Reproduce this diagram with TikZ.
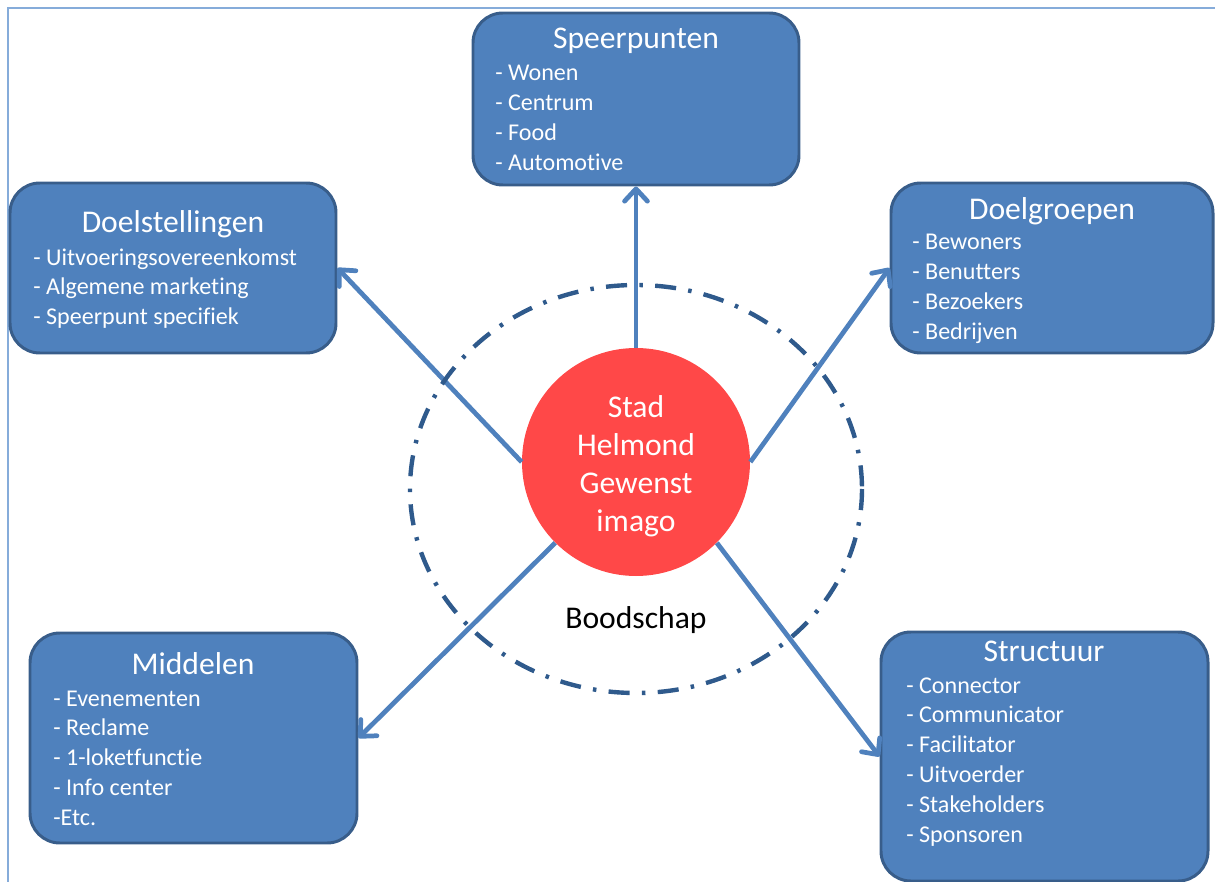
\documentclass[tikz,border=0pt]{standalone}
\usepackage{fontspec}
\setmainfont{Carlito}[Ligatures=NoCommon]
\usetikzlibrary{arrows.meta,fit}

\definecolor{boxblue}{HTML}{4F81BD}
\definecolor{boxedge}{HTML}{385D8A}
\definecolor{ringblue}{HTML}{2F5A8C}
\definecolor{frameblue}{HTML}{86ACDA}
\definecolor{centrered}{HTML}{FF4848}

\tikzset{
  box/.style={draw=boxedge, fill=boxblue, line width=1.7pt, rounded corners=17pt, inner sep=0pt},
  title/.style={text=white, anchor=base, font=\fontsize{18}{22}\selectfont},
  item/.style={text=white, anchor=base west, inner sep=0pt, font=\fontsize{13.7}{17}\selectfont},
  link/.style={draw=boxblue, line width=2.7pt, -{Straight Barb[length=7pt,width=13pt,round]}},
}

\begin{document}
\begin{tikzpicture}[x=0.02cm, y=-0.02cm]
   \useasboundingbox (0,0) rectangle (1215,882);
   \def\dy{29.8};

   % frame of the slide
   \draw[frameblue, line width=1.1pt] (1215,8) -- (8,8) -- (8,882);

   % the five boxes
   \node[box, fit={(473,13) (799,185)}] (sp) {};
   \node[box, fit={(10,183) (336,353)}] (ds) {};
   \node[box, fit={(891,183) (1213,353)}] (dg) {};
   \node[box, fit={(30,633) (357,843)}] (md) {};
   \node[box, fit={(881,632) (1208,881)}] (st) {};

   % centre
   \node[circle, fill=centrered, minimum size=228*0.02cm, inner sep=0pt] (c) at (636,462) {};
   \node[text=white, align=center, font=\fontsize{18}{21.6}\selectfont] (cT) at (636,466)
        {Stad\\Helmond\\Gewenst\\imago};

   \draw[link] (c.north) -- (sp.south);
   \draw[link] (c.west) -- (ds.east);
   \draw[link] (c.east) -- (dg.west);
   \draw[link] (c.225) -- (md.east);
   \draw[link] (c.-45) -- (st.west);

   % boodschap ring
   \draw[ringblue, line width=2.5pt, dash pattern=on 12pt off 7pt on 2pt off 7pt]
        (636,489) ellipse [x radius=226, y radius=204];
   \node[anchor=base, font=\fontsize{18}{22}\selectfont] (msg) at (636,628) {Boodschap};

   % Speerpunten
   \node[title] (spT) at (636,49) {Speerpunten};
   \foreach \i/\name in {0/Wonen, 1/Centrum, 2/Food, 3/Automotive}
       \node[item] (sp\i) at (495, 81 + \i*\dy) {- \name};

   % Doelstellingen
   \node[title] (dsT) at (173,233) {Doelstellingen};
   \foreach \i/\name in {0/Uitvoeringsovereenkomst, 1/Algemene marketing, 2/Speerpunt specifiek}
       \node[item] (ds\i) at (33, 265 + \i*\dy) {- \name};

   % Doelgroepen
   \node[title] (dgT) at (1052,219) {Doelgroepen};
   \foreach \i/\name in {0/Bewoners, 1/Benutters, 2/Bezoekers, 3/Bedrijven}
       \node[item] (dg\i) at (912, 250 + \i*\dy) {- \name};

   % Middelen
   \node[title] (mdT) at (193,674) {Middelen};
   \foreach \i/\name in {0/{- Evenementen}, 1/{- Reclame}, 2/{- 1-loketfunctie}, 3/{- Info center}, 4/{-Etc.}}
       \node[item] (md\i) at (53, 706 + \i*\dy) {\name};

   % Structuur
   \node[title] (stT) at (1044,661) {Structuur};
   \foreach \i/\name in {0/Connector, 1/Communicator, 2/Facilitator, 3/Uitvoerder, 4/Stakeholders, 5/Sponsoren}
       \node[item] (st\i) at (906, 693 + \i*\dy) {- \name};

\end{tikzpicture}
\end{document}
